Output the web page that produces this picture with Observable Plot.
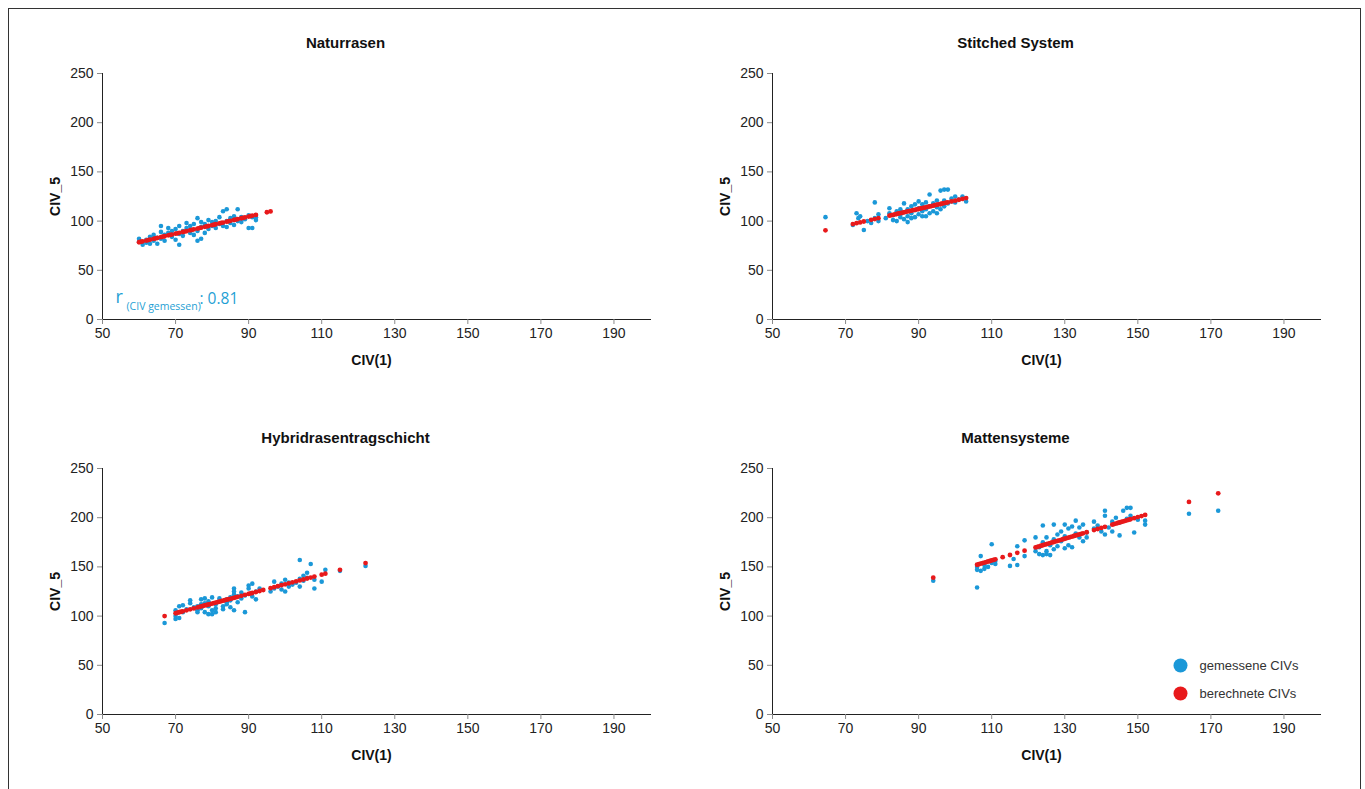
<!DOCTYPE html>
<html><head><meta charset="utf-8">
<script src="https://cdn.jsdelivr.net/npm/d3@7"></script>
<script src="https://cdn.jsdelivr.net/npm/@observablehq/plot@0.6"></script>
<style>
html,body{margin:0;padding:0;background:#fff;overflow:hidden;width:1365px;height:789px;}
#frame{position:absolute;left:8px;top:8px;width:1353px;height:820px;border:1px solid #333;box-sizing:border-box;}
.panel{position:absolute;}
.panel svg g[aria-label*="axis"] line,.panel svg g[aria-label*="axis"] path{stroke:#8a8a8a;}
</style></head><body>
<div id="frame"></div>
<div id="p0" class="panel" style="left:0px;top:20px"></div>
<div id="p1" class="panel" style="left:670px;top:20px"></div>
<div id="p2" class="panel" style="left:0px;top:415px"></div>
<div id="p3" class="panel" style="left:670px;top:415px"></div>
<script>
const titles = ["Naturrasen", "Stitched System", "Hybridrasentragschicht", "Mattensysteme"];
const xTicks = [50, 70, 90, 110, 130, 150, 170, 190];
const yTicks = [0, 50, 100, 150, 200, 250];
const xLabel = "CIV(1)";
const yLabel = "CIV_5";
const seriesNames = ["gemessene CIVs", "berechnete CIVs"];
const rParts = ["r", "(CIV gemessen)", ": 0.81"];

// Naturrasen
const naturMeasured = [[60,82],[60,79],[61,76],[62,78],[62,81],[63,77],[63,84],[64,80],[64,86],[65,77],[65,83],[66,89],[66,95],[66,82],[67,80],[67,86],[68,88],[68,93],[69,84],[69,90],[70,81],[70,92],[71,76],[71,87],[71,95],[72,90],[72,85],[73,93],[73,98],[74,88],[74,95],[75,86],[75,97],[76,80],[76,90],[76,103],[77,82],[77,94],[77,99],[78,88],[78,97],[79,92],[79,101],[80,95],[80,99],[81,93],[81,100],[82,104],[82,97],[83,110],[83,95],[84,112],[84,100],[84,94],[85,98],[85,103],[86,96],[86,105],[87,112],[87,100],[88,99],[88,104],[89,102],[90,93],[90,106],[91,93],[91,104],[92,101],[92,104]];
const naturCalculated = [[60,78.5],[60.5,79],[61,79.4],[62,80.2],[62.5,80.7],[63,81.1],[64,82],[64.5,82.4],[65,82.9],[66,83.7],[66.5,84.2],[67,84.6],[68,85.5],[68.5,85.9],[69,86.3],[70,87.2],[70.5,87.6],[71,88.1],[72,88.9],[72.5,89.4],[73,89.8],[74,90.7],[74.5,91.1],[75,91.6],[76,92.4],[76.5,92.9],[77,93.3],[78,94.2],[78.5,94.6],[79,95],[80,95.9],[80.5,96.3],[81,96.8],[82,97.6],[82.5,98.1],[83,98.5],[84,99.4],[84.5,99.8],[85,100.3],[86,101.1],[86.5,101.6],[87,102],[88,102.9],[88.5,103.3],[89,103.7],[90,104.6],[90.5,105],[91,105.5],[92,106.3],[95,109],[96,109.8]];

// Stitched System
const stitchedMeasured = [[64.5,104],[72,96],[73,108],[73.5,103],[74,105],[75,91],[76,100],[77,98],[78,119],[78,103],[79,100],[79,107],[81,103],[82,113],[82,108],[83,101],[83,106],[84,100],[84,110],[85,104],[85,112],[85,107],[86,118],[86,102],[86,109],[87,105],[87,112],[87,99],[88,115],[88,108],[88,103],[89,104],[89,111],[89,117],[90,120],[90,107],[90,113],[91,110],[91,105],[91,117],[92,105],[92,112],[92,119],[93,127],[93,108],[93,115],[94,110],[94,118],[95,108],[95,121],[95,114],[96,131],[96,117],[96,112],[97,132],[97,121],[97,115],[98,132],[98,118],[99,123],[99,120],[100,125],[100,119],[101,122],[102,125],[103,120]];
const stitchedCalculated = [[64.5,90.6],[72,97],[73,97.9],[74,98.7],[75,99.6],[77,101.3],[78,102.1],[79,103],[82,105.5],[82.5,106],[83,106.4],[83.5,106.8],[84,107.2],[84.5,107.7],[85,108.1],[85.5,108.5],[86,108.9],[86.5,109.4],[87,109.8],[87.5,110.2],[88,110.6],[88.5,111.1],[89,111.5],[89.5,111.9],[90,112.3],[90.5,112.8],[91,113.2],[91.5,113.6],[92,114],[92.5,114.5],[93,114.9],[93.5,115.3],[94,115.7],[94.5,116.2],[95,116.6],[95.5,117],[96,117.4],[96.5,117.9],[97,118.3],[97.5,118.7],[98,119.1],[99,120],[100,120.8],[101,121.7],[102,122.5],[103,123.4]];

// Hybridrasentragschicht
const hybridMeasured = [[67,93],[70,97],[70,100],[70,106],[71,110],[71,98],[72,104],[72,111],[73,107],[74,113],[74,116],[75,109],[76,106],[76,110],[76,104],[77,117],[77,112],[77,108],[78,118],[78,104],[78,113],[79,110],[79,102],[79,115],[80,119],[80,106],[80,102],[81,112],[81,108],[81,104],[82,115],[82,118],[83,110],[83,107],[84,114],[84,117],[84,112],[85,109],[85,119],[85,116],[86,106],[86,125],[86,122],[86,128],[87,114],[87,120],[88,118],[88,124],[89,104],[89,121],[90,131],[90,128],[91,133],[91,120],[92,117],[92,125],[93,128],[96,125],[97,128],[97,135],[98,130],[99,133],[99,127],[100,125],[100,137],[101,130],[101,134],[102,132],[103,134],[104,157],[104,138],[104,130],[105,141],[105,136],[106,144],[106,139],[107,153],[108,128],[108,137],[110,135],[111,147],[115,146],[122,151]];
const hybridCalculated = [[67,100],[70,102.9],[70.5,103.4],[71,103.9],[71.5,104.4],[72,104.9],[73,105.9],[74,106.9],[75,107.8],[76,108.8],[76.5,109.3],[77,109.8],[77.5,110.3],[78,110.8],[78.5,111.3],[79,111.8],[79.5,112.2],[80,112.7],[80.5,113.2],[81,113.7],[81.5,114.2],[82,114.7],[82.5,115.2],[83,115.7],[83.5,116.2],[84,116.7],[84.5,117.1],[85,117.6],[85.5,118.1],[86,118.6],[86.5,119.1],[87,119.6],[88,120.6],[89,121.6],[90,122.5],[90.5,123],[91,123.5],[92,124.5],[93,125.5],[94,126.5],[96,128.4],[97,129.4],[98,130.4],[99,131.4],[100,132.3],[101,133.3],[102,134.3],[103,135.3],[104,136.3],[105,137.2],[106,138.2],[107,139.2],[108,140.2],[110,142.1],[111,143.1],[115,147],[122,153.9]];

// Mattensysteme
const mattenMeasured = [[94,136],[106,129],[106,147],[106,150],[107,146],[107,161],[108,148],[108,152],[109,150],[110,154],[110,173],[111,153],[111,156],[115,151],[116,158],[117,152],[117,171],[119,161],[119,177],[122,166],[122,180],[123,170],[123,163],[124,162],[124,175],[124,192],[125,166],[125,180],[125,163],[126,172],[126,162],[127,193],[127,178],[127,168],[128,183],[128,171],[129,186],[129,176],[130,193],[130,169],[130,181],[131,189],[131,172],[132,191],[132,170],[133,197],[133,184],[134,180],[134,190],[135,193],[135,176],[136,185],[136,180],[138,196],[138,189],[139,192],[140,186],[141,207],[141,202],[141,183],[142,190],[143,196],[143,186],[144,200],[145,182],[145,195],[146,207],[147,199],[147,210],[148,202],[148,210],[149,185],[150,198],[152,193],[152,197],[164,204],[172,207]];
const mattenCalculated = [[94,139],[106,152.2],[106.5,152.7],[107,153.3],[107.5,153.9],[108,154.4],[108.5,154.9],[109,155.5],[109.5,156],[110,156.6],[110.5,157.1],[111,157.7],[113,159.9],[115,162.1],[117,164.3],[119,166.5],[122,169.8],[122.5,170.4],[123,170.9],[123.5,171.5],[124,172],[124.5,172.6],[125,173.1],[125.5,173.7],[126,174.2],[126.5,174.8],[127,175.3],[127.5,175.9],[128,176.4],[128.5,177],[129,177.5],[129.5,178.1],[130,178.6],[130.5,179.2],[131,179.7],[131.5,180.3],[132,180.8],[132.5,181.4],[133,181.9],[133.5,182.5],[134,183],[134.5,183.6],[135,184.1],[136,185.2],[138,187.4],[139,188.5],[140,189.6],[141,190.7],[143,192.9],[143.5,193.5],[144,194],[144.5,194.6],[145,195.1],[145.5,195.7],[146,196.2],[146.5,196.8],[147,197.3],[147.5,197.9],[148,198.4],[149,199.5],[150,200.6],[151,201.7],[152,202.8],[164,216],[172,224.8]];

const BLUE = "#1b98d8";
const RED = "#e8191b";
const AXIS_FONT = "'Liberation Sans', Arial, sans-serif";

function panel(i, measured, calculated, extra) {
  const marks = [
    Plot.dot(measured, {x: d => d[0], y: d => d[1], r: 2.3, fill: BLUE}),
    Plot.dot(calculated, {x: d => d[0], y: d => d[1], r: 2.4, fill: RED}),
    Plot.text([titles[i]], {text: d => d, frameAnchor: "top", lineAnchor: "middle", textAnchor: "middle", dx: -31, dy: -30, fontSize: 15, fontWeight: "bold", fill: "#111"}),
    Plot.text([xLabel], {text: d => d, frameAnchor: "bottom", lineAnchor: "middle", textAnchor: "middle", dx: -5, dy: 41, fontSize: 14, fontWeight: "bold", fill: "#111"}),
    Plot.text([yLabel], {text: d => d, frameAnchor: "left", lineAnchor: "middle", textAnchor: "middle", dx: -47, rotate: -90, fontSize: 14, fontWeight: "bold", fill: "#111"}),
    ...(extra || [])
  ];
  const p = Plot.plot({
    width: 665, height: 360,
    marginLeft: 102, marginRight: 15, marginTop: 53, marginBottom: 61,
    style: {fontSize: "14px", fontFamily: AXIS_FONT, color: "#222", background: "transparent", overflow: "visible"},
    x: {domain: [50, 200], ticks: xTicks, tickSize: 5, label: null, line: true},
    y: {domain: [0, 250], ticks: yTicks, tickSize: 5, label: null, line: true},
    marks
  });
  document.getElementById("p" + i).appendChild(p);
}

const rFont = "'Open Sans', 'Noto Sans', sans-serif";
const rColor = "#1f9fd4";
const rMarks = [
  Plot.text([rParts[0]], {text: d => d, frameAnchor: "bottom-left", lineAnchor: "middle", textAnchor: "start", dx: 13, dy: -22, fontSize: 18, fontFamily: rFont, fill: rColor}),
  Plot.text([rParts[1]], {text: d => d, frameAnchor: "bottom-left", lineAnchor: "middle", textAnchor: "start", dx: 24, dy: -13, fontSize: 10.5, fontFamily: rFont, fill: rColor}),
  Plot.text([rParts[2]], {text: d => d, frameAnchor: "bottom-left", lineAnchor: "middle", textAnchor: "start", dx: 97, dy: -20, fontSize: 15.5, fontFamily: rFont, fill: rColor})
];

const legendMarks = [
  Plot.dot([seriesNames[0]], {frameAnchor: "bottom-right", dx: -140, dy: -49, r: 7, fill: BLUE}),
  Plot.dot([seriesNames[1]], {frameAnchor: "bottom-right", dx: -140, dy: -21, r: 7, fill: RED}),
  Plot.text([seriesNames[0]], {text: d => d, frameAnchor: "bottom-right", lineAnchor: "middle", textAnchor: "start", dx: -121, dy: -49, fontSize: 13, fill: "#333"}),
  Plot.text([seriesNames[1]], {text: d => d, frameAnchor: "bottom-right", lineAnchor: "middle", textAnchor: "start", dx: -121, dy: -21, fontSize: 13, fill: "#333"})
];

panel(0, naturMeasured, naturCalculated, rMarks);
panel(1, stitchedMeasured, stitchedCalculated);
panel(2, hybridMeasured, hybridCalculated);
panel(3, mattenMeasured, mattenCalculated, legendMarks);
</script>
</body></html>
